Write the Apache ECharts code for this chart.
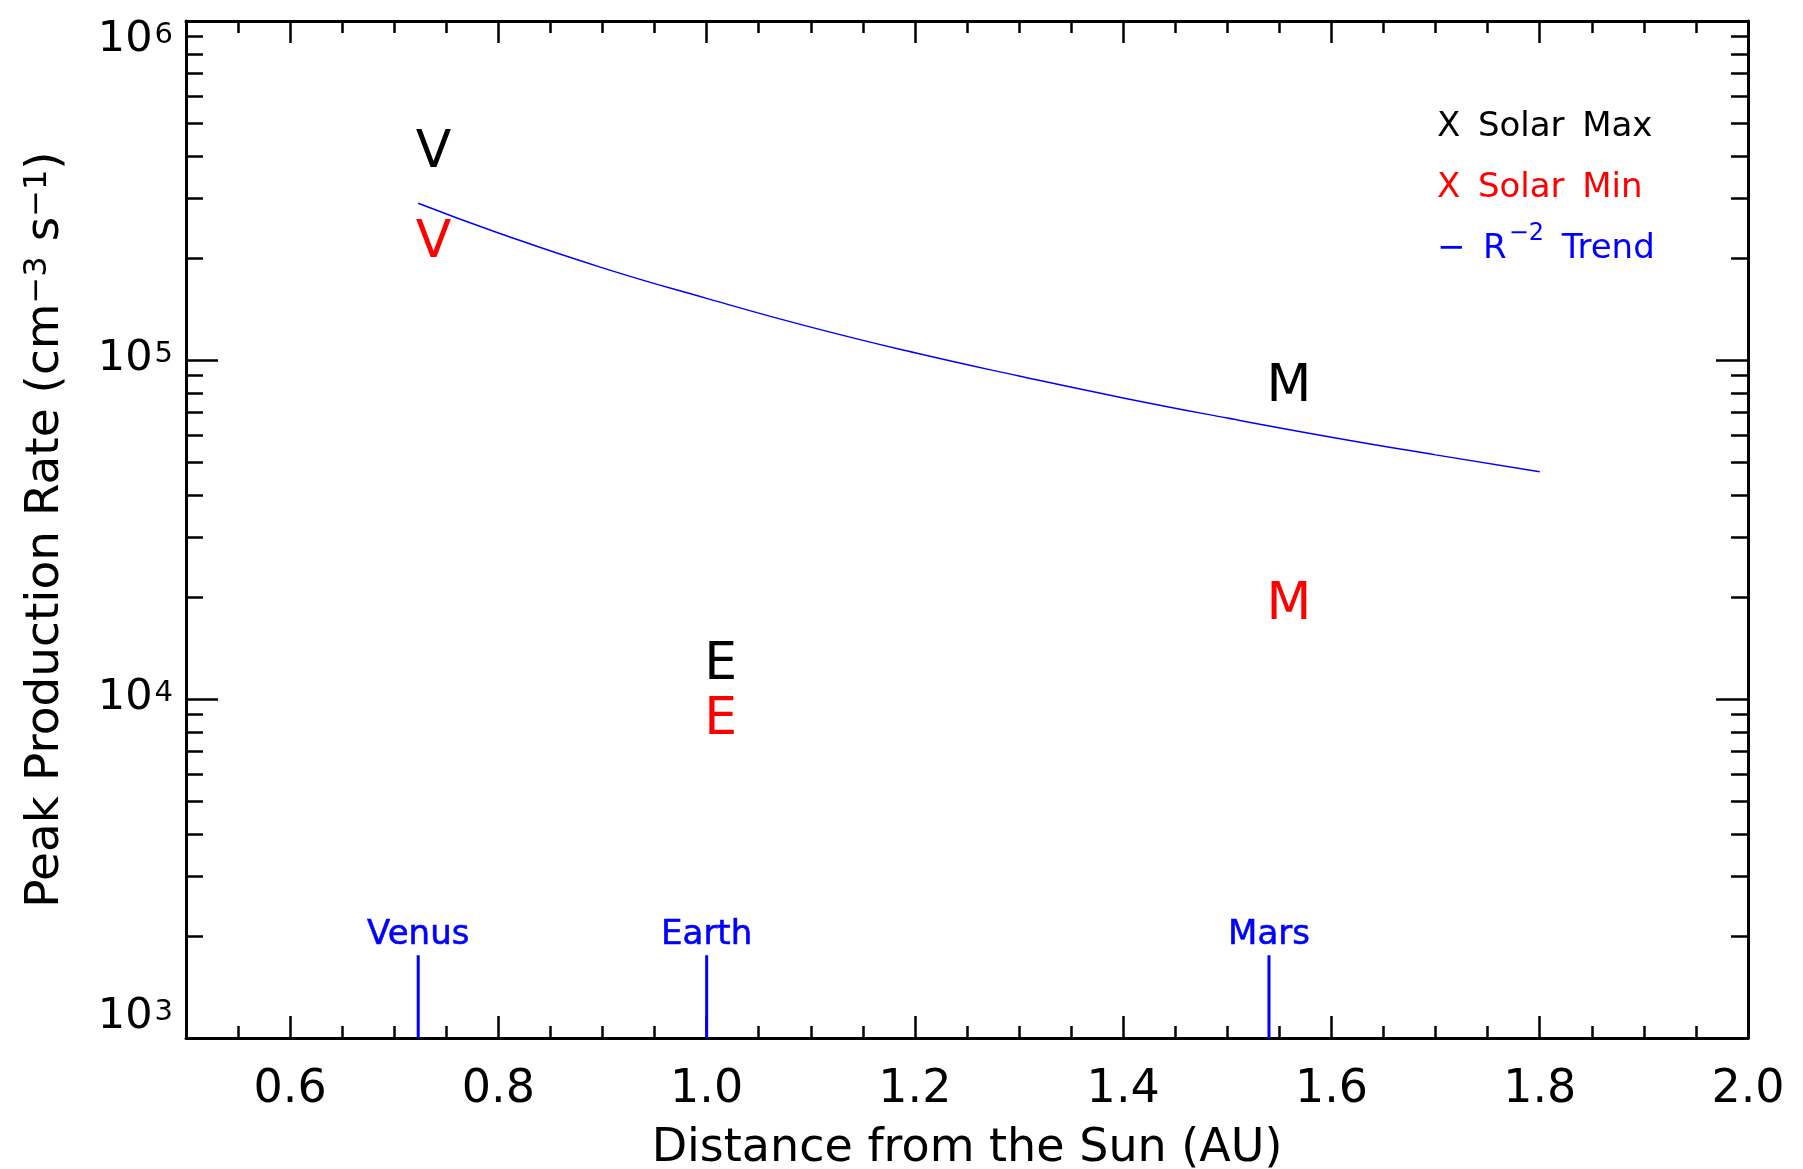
<!DOCTYPE html>
<html>
<head>
<meta charset="utf-8">
<script src="https://cdn.jsdelivr.net/npm/echarts@6/dist/echarts.min.js"></script>
<style>
  html, body { margin: 0; padding: 0; background: #fff; }
  #chart { width: 1803px; height: 1169px; }
</style>
</head>
<body>
<div id="chart"></div>
<script>
// ---- data ----
const xTickLabels = [0.6, 0.8, 1.0, 1.2, 1.4, 1.6, 1.8, 2.0];
const yDecades = [1e3, 1e4, 1e5, 1e6];
const yMinorTicks = [2e3, 3e3, 4e3, 5e3, 6e3, 7e3, 8e3, 9e3,
                     2e4, 3e4, 4e4, 5e4, 6e4, 7e4, 8e4, 9e4,
                     2e5, 3e5, 4e5, 5e5, 6e5, 7e5, 8e5, 9e5];

const planets = ['Venus', 'Earth', 'Mars'];
const planetDist = [0.723, 1.0, 1.54];
const markerBase = 1000;
const markerTop = 1755;

const letters = ['V', 'E', 'M'];
const solarMax = [4.25e5, 1.31e4, 8.69e4];
const solarMin = [2.30e5, 9.06e3, 1.97e4];

const trendX = [0.723, 0.8, 0.9, 1.0, 1.1, 1.2, 1.3, 1.4, 1.5, 1.6, 1.7, 1.8];
const trendY = [2.90e5, 2.37e5, 1.87e5, 1.52e5, 1.25e5, 1.05e5, 8.97e4, 7.73e4, 6.74e4, 5.92e4, 5.25e4, 4.68e4];

// ---- chart ----
const FONT = 'DejaVu Sans';
const chart = echarts.init(document.getElementById('chart'));

function xAxisDef(pos, major, withLabel) {
  const ax = {
    type: 'value', position: pos, min: 0.5, max: 2.0,
    interval: 0.05,
    splitLine: { show: false },
    axisLine: { show: !major, onZero: false, lineStyle: { color: '#000', width: 3 } },
    axisTick: { show: true, inside: true, length: major ? 22 : 12, lineStyle: { color: '#000', width: 2.5 } },
    axisLabel: { show: false }
  };
  if (major) ax.axisTick.customValues = xTickLabels;
  if (withLabel) {
    ax.axisLabel = {
      show: true, customValues: xTickLabels, margin: 29,
      fontFamily: FONT, fontSize: 46, color: '#000',
      formatter: v => v.toFixed(1)
    };
    ax.name = 'Distance from the Sun (AU)';
    ax.nameLocation = 'middle';
    ax.nameGap = 88;
    ax.nameTextStyle = { fontFamily: FONT, fontSize: 46, color: '#000' };
  }
  return ax;
}

function yAxisDef(pos, major, withLabel) {
  const ax = {
    type: 'log', logBase: 10, position: pos, min: 1e3, max: 1e6,
    splitLine: { show: false },
    axisLine: { show: major, onZero: false, lineStyle: { color: '#000', width: 3 } },
    axisTick: { show: true, inside: true, length: major ? 32 : 17,
                customValues: major ? yDecades : yMinorTicks,
                lineStyle: { color: '#000', width: 2.5 } },
    axisLabel: { show: false }
  };
  if (withLabel) {
    ax.axisLabel = {
      show: true, customValues: yDecades, margin: 13,
      verticalAlignMinLabel: 'bottom',
      verticalAlignMaxLabel: 'top',
      formatter: v => '{b|10}{e|' + Math.round(Math.log10(v)) + '}',
      rich: {
        b: { fontFamily: FONT, fontSize: 43, color: '#000', lineHeight: 40, verticalAlign: 'bottom' },
        e: { fontFamily: FONT, fontSize: 29, color: '#000', lineHeight: 40, verticalAlign: 'top', padding: [0, 0, 14, 2] }
      }
    };
    ax.name = 'Peak Production Rate (cm{s|−3} s{s|−1})';
    ax.nameLocation = 'middle';
    ax.nameGap = 116;
    ax.nameTextStyle = {
      fontFamily: FONT, fontSize: 47, color: '#000',
      rich: {
        s: { fontFamily: FONT, fontSize: 32, color: '#000', verticalAlign: 'top', padding: [0, 0, 16, 0] }
      }
    };
  }
  return ax;
}

function letterSeries(name, vals, color) {
  return {
    name: name, type: 'scatter', xAxisIndex: 0, yAxisIndex: 0,
    symbol: 'rect', symbolSize: 1, itemStyle: { color: 'rgba(0,0,0,0)', opacity: 1 },
    silent: true,
    data: letters.map((l, i) => ({ name: l, value: [planetDist[i], vals[i]] })),
    label: {
      show: true, position: [0, 0], align: 'left', verticalAlign: 'middle',
      offset: [-2, 7],
      formatter: p => p.name, opacity: 1,
      fontFamily: FONT, fontSize: 52, color: color
    }
  };
}

const planetSeries = planets.map((p, i) => ({
  name: p, type: 'line', xAxisIndex: 0, yAxisIndex: 0,
  data: [[planetDist[i], markerBase], [planetDist[i], markerTop]],
  showSymbol: false, symbol: 'none', silent: true,
  lineStyle: { color: '#0000ff', width: 3 },
  endLabel: {
    show: true, formatter: p,
    fontFamily: FONT, fontSize: 34, color: '#0000ff',
    textBorderColor: '#0000ff', textBorderWidth: 0.6,
    align: 'center', verticalAlign: 'bottom', offset: [-8, -3]
  }
}));

const option = {
  backgroundColor: '#fff',
  animation: false,
  grid: { left: 186, top: 21, right: 55, bottom: 131, containLabel: false, outerBoundsMode: 'none' },
  xAxis: [
    xAxisDef('bottom', false, true),
    xAxisDef('bottom', true, false),
    xAxisDef('top', false, false),
    xAxisDef('top', true, false)
  ],
  yAxis: [
    yAxisDef('left', true, true),
    yAxisDef('left', false, false),
    yAxisDef('right', true, false),
    yAxisDef('right', false, false)
  ],
  series: [
    {
      name: 'R-2 Trend', type: 'line', xAxisIndex: 0, yAxisIndex: 0,
      data: trendX.map((x, i) => [x, trendY[i]]),
      smooth: true, showSymbol: false, symbol: 'none', silent: true,
      lineStyle: { color: '#0000ff', width: 1.5 }
    },
    letterSeries('Solar Max', solarMax, '#000000'),
    letterSeries('Solar Min', solarMin, '#ff0000')
  ].concat(planetSeries),
  graphic: [
    { type: 'text', left: 1437, top: 110, style: { text: 'X \u2009Solar \u2009Max', font: '34px "DejaVu Sans"', fill: '#000' } },
    { type: 'text', left: 1437, top: 171, style: { text: 'X \u2009Solar \u2009Min', font: '34px "DejaVu Sans"', fill: '#ff0000' } },
    { type: 'text', left: 1437, top: 222, style: {
        text: '{t|− \u2009R}{s|−2}{t| \u2009Trend}',
        rich: {
          t: { fontFamily: FONT, fontSize: 34, fill: '#0000ff', color: '#0000ff', lineHeight: 44, verticalAlign: 'bottom' },
          s: { fontFamily: FONT, fontSize: 24, fill: '#0000ff', color: '#0000ff', lineHeight: 44, verticalAlign: 'top', padding: [0, 0, 0, 2] }
        }
    } }
  ]
};
chart.setOption(option);
</script>
</body>
</html>
